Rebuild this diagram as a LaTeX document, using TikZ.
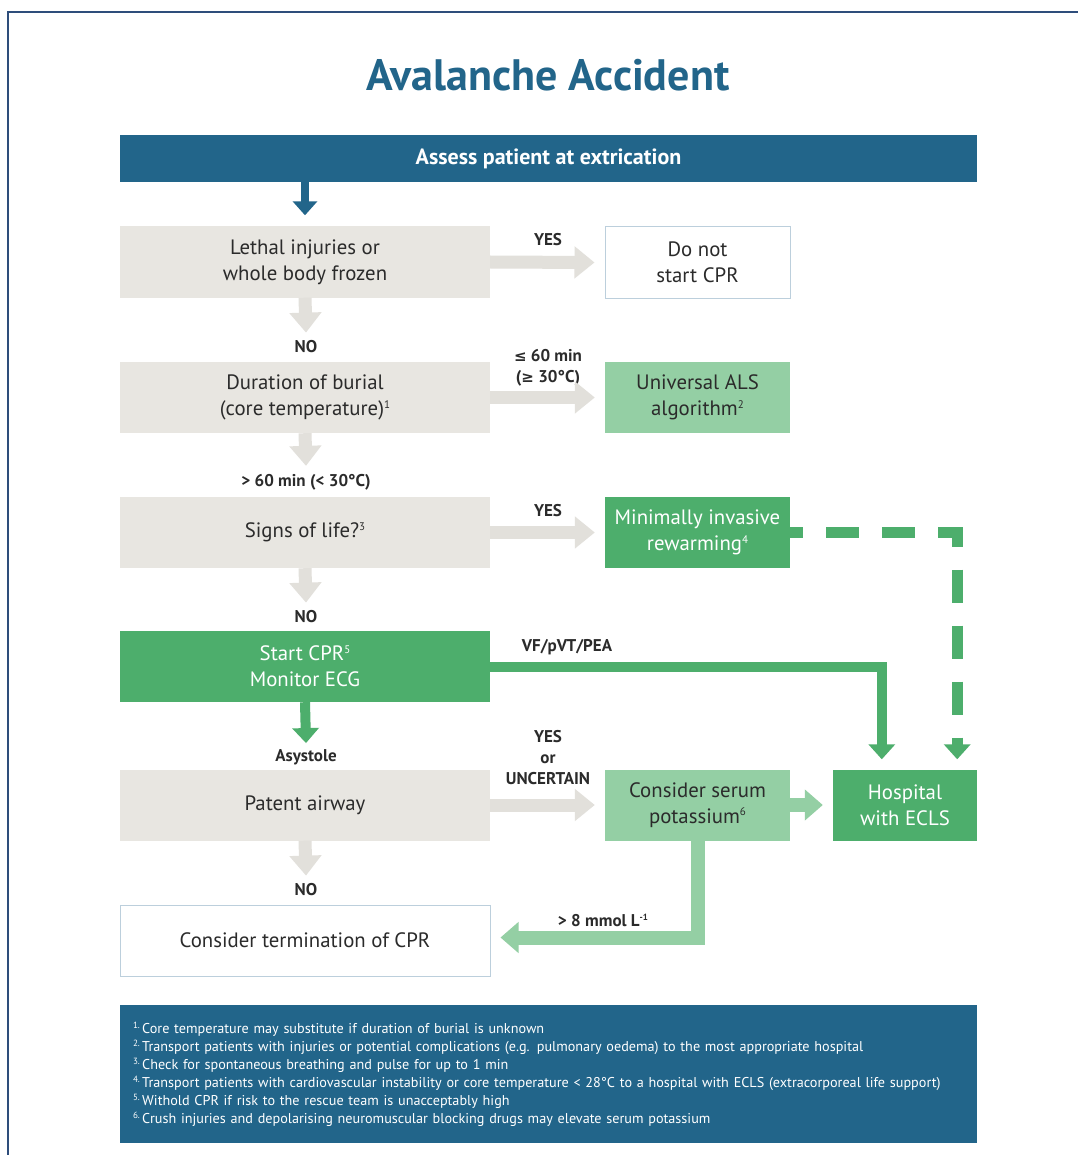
\documentclass[tikz,border=0pt]{standalone}
\usepackage{fontspec}
\setmainfont{PT Sans}
\newfontfamily\symf{DejaVu Sans}
\usetikzlibrary{arrows.meta}
\definecolor{navy}{HTML}{22658A}
\definecolor{framec}{HTML}{2E4D7B}
\definecolor{boxgray}{HTML}{E8E6E1}
\definecolor{arrgray}{HTML}{E2E0DB}
\definecolor{gr}{HTML}{4DAE6C}
\definecolor{lgr}{HTML}{94CFA4}
\definecolor{txt}{HTML}{2B2B2B}
\definecolor{wborder}{HTML}{BCCFDC}
\newcommand\sups[2][11]{\raisebox{0.36em}{\fontsize{#1}{#1}\selectfont #2}}
\begin{document}
\begin{tikzpicture}[x=1pt,y=-1pt,
  box/.style={rectangle, minimum height=71pt, inner sep=0pt, align=center, font=\fontsize{20.8}{26}\selectfont},
  lbox/.style={box, minimum width=370pt},
  rbox/.style={box, minimum width=185pt},
  grayfill/.style={fill=boxgray, text=txt},
  whitefill/.style={fill=white, draw=wborder, line width=1pt, text=txt},
  greenfill/.style={fill=gr, text=white},
  lgreenfill/.style={fill=lgr, text=txt},
  lab/.style={font=\bfseries\fontsize{17}{21}\selectfont, text=txt, align=center, inner sep=1pt},
  garrow/.style={draw=arrgray, line width=13pt, -{Triangle[width=31pt,length=20pt]}},
  barrow/.style={draw=navy, line width=8pt, -{Triangle[width=24pt,length=14pt]}},
  grarrow/.style={draw=gr, line width=10pt, -{Triangle[width=26pt,length=15pt]}},
  gline/.style={draw=gr, line width=10pt, -{Triangle[width=26pt,length=15pt]}},
  gdash/.style={draw=gr, line width=11pt, dash pattern=on 33pt off 23pt, dash phase=20pt, -{Triangle[width=26pt,length=15pt]}},
  lgarrow/.style={draw=lgr, line width=14pt, -{Triangle[width=30pt,length=18pt]}},
  banner/.style={fill=navy, text=white, minimum width=857pt, inner sep=0pt},
]
\useasboundingbox (0,0) rectangle (1077,1155);
\fill[white] (0,0) rectangle (1077,1155);
\draw[framec, line width=2pt] (8,12) rectangle (1110,1190);

\node[font=\bfseries\fontsize{44}{50}\selectfont, text=navy] (title) at (548,75) {Avalanche Accident};
\node[banner, minimum height=47pt, font=\bfseries\fontsize{22}{26}\selectfont] (top) at (548.5,158.5) {Assess patient at extrication};

% left column
\node[lbox,grayfill] (b1) at (305,262) {Lethal injuries or\\whole body frozen};
\node[lbox,grayfill] (b2) at (305,397.5) {Duration of burial\\(core temperature)\sups{1}};
\node[lbox,grayfill] (b3) at (305,532.5) {Signs of life?\sups{3}};
\node[lbox,greenfill] (b4) at (305,666.5) {Start CPR\sups{5}\\Monitor ECG};
\node[lbox,grayfill] (b5) at (305,805) {Patent airway};
\node[lbox,whitefill] (b6) at (305,940.5) {Consider termination of CPR};

% right column
\node[rbox,whitefill] (dn) at (697.5,262.5) {Do not\\start CPR};
\node[rbox,lgreenfill] (als) at (697.5,397.5) {Universal ALS\\algorithm\sups{2}};
\node[rbox,greenfill] (mir) at (697.5,532.5) {Minimally invasive\\rewarming\sups{4}};
\node[rbox,lgreenfill] (pot) at (697.5,805) {Consider serum\\potassium\sups{6}};
\node[box,greenfill,minimum width=144pt] (hosp) at (905,805) {Hospital\\with ECLS};

% labels
\node[lab] (yes1) at (548,240) {YES};
\node[lab] (no1) at (306,347) {NO};
\node[lab] (le60) at (548,368) {{\symf\fontsize{15}{21}\selectfont ≤} 60 min\\({\symf\fontsize{15}{21}\selectfont ≥} 30°C)};
\node[lab] (gt60) at (306,482) {> 60 min (< 30°C)};
\node[lab] (yes2) at (548,511) {YES};
\node[lab] (no2) at (306,617) {NO};
\node[lab] (vf) at (567,647) {VF/pVT/PEA};
\node[lab] (asy) at (306,757) {Asystole};
\node[lab] (yes3) at (548,758) {YES\\or\\UNCERTAIN};
\node[lab] (no3) at (306,890) {NO};
\node[lab] (k8) at (603,920) {> 8 mmol L\sups[9]{-1}};

% connectors
\draw[barrow] (b1.north |- top.south) -- ([yshift=11pt]b1.north);
\draw[garrow] (b1.east) -- ([xshift=-10pt]dn.west);
\draw[garrow] (b1.south) -- ([yshift=7pt]no1.north);
\draw[garrow] (b2.east) -- ([xshift=-10pt]als.west);
\draw[garrow] (b2.south) -- ([yshift=7pt]gt60.north);
\draw[garrow] (b3.east) -- ([xshift=-10pt]mir.west);
\draw[garrow] (b3.south) -- ([yshift=7pt]no2.north);
\draw[grarrow] (b4.south) -- ([yshift=5pt]asy.north);
\draw[garrow] (b5.east) -- ([xshift=-10pt]pot.west);
\draw[garrow] (b5.south) -- ([yshift=7pt]no3.north);
\draw[gline] (b4.east) -| ([xshift=49pt,yshift=10pt]hosp.north west);
\draw[gdash] (mir.east) -| ([xshift=-20pt,yshift=10pt]hosp.north east);
\draw[lgarrow] (pot.east) -- ([xshift=-10pt]hosp.west);
\draw[lgarrow] (pot.south) |- ([xshift=10pt,yshift=3pt]b6.east);

% footnotes
\node[banner, minimum height=138pt, text width=831pt, inner xsep=13pt, align=left,
      font=\fontsize{14.2}{18}\selectfont] (notes) at (548.5,1074) {%
\sups[9]{1.}\,Core temperature may substitute if duration of burial is unknown\\
\sups[9]{2.}\,Transport patients with injuries or potential complications (e.g. pulmonary oedema) to the most appropriate hospital\\
\sups[9]{3.}\,Check for spontaneous breathing and pulse for up to 1 min\\
\sups[9]{4.}\,Transport patients with cardiovascular instability or core temperature < 28°C to a hospital with ECLS (extracorporeal life support)\\
\sups[9]{5.}\,Withold CPR if risk to the rescue team is unacceptably high\\
\sups[9]{6.}\,Crush injuries and depolarising neuromuscular blocking drugs may elevate serum potassium};
\end{tikzpicture}
\end{document}
